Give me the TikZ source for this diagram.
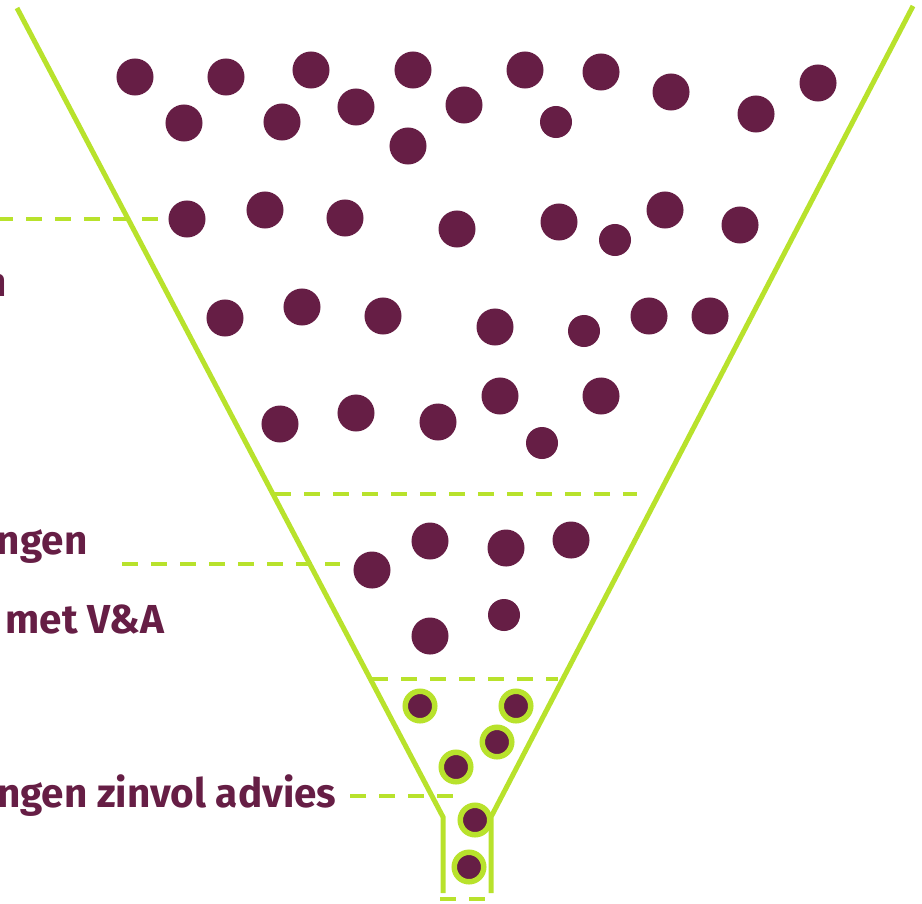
\documentclass[tikz,border=0pt]{standalone}
\usepackage{fontspec}
\setmainfont{Fira Sans}
\usetikzlibrary{positioning}
\definecolor{plum}{RGB}{102,30,69}
\definecolor{lime}{RGB}{184,226,44}

\begin{document}
\begin{tikzpicture}[x=0.01cm,y=-0.01cm,
    dot/.style={circle,fill=plum,inner sep=0pt,minimum size=0.37cm},
    smalldot/.style={dot,minimum size=0.32cm},
    ringdot/.style={circle,fill=plum,draw=lime,line width=0.055cm,inner sep=0pt,minimum size=0.295cm},
    wall/.style={lime,line width=0.05cm},
    cut/.style={lime,line width=0.04cm,dash pattern=on 0.16cm off 0.13cm},
    lbl/.style={anchor=base east,inner sep=0pt,text=plum,font=\bfseries\fontsize{11.5}{14}\selectfont}
  ]
  \useasboundingbox (0,0) rectangle (922,903);

  % funnel
  \draw[wall] (17,8) -- (443,817) -- (443,893);
  \draw[wall] (913,6) -- (491,817) -- (491,893);

  % top part
  \foreach \x/\y [count=\i] in {135/77,226/77,311/70,413/70,525/70,601/72,671/92,818/83,
      184/123,282/122,356/107,464/105,408/146,756/114,
      187/219,265/210,345/218,457/229,559/222,665/210,740/225,
      225/318,302/307,383/316,495/327,649/316,710/316,
      280/424,356/413,438/422,500/396,601/396} {
    \node[dot] (a\i) at (\x,\y) {};
  }
  \foreach \x/\y [count=\i] in {556/122,615/240,584/331,542/443} {
    \node[smalldot] (s\i) at (\x,\y) {};
  }

  % middle part
  \foreach \x/\y [count=\i] in {372/570,430/541,506/548,571/540,430/636} {
    \node[dot] (b\i) at (\x,\y) {};
  }
  \node[smalldot] (b6) at (504,615) {};

  % bottom part
  \foreach \x/\y [count=\i] in {420/706,516/706,497/742,456/767,475/820,469/867} {
    \node[ringdot] (c\i) at (\x,\y) {};
  }

  % labels
  \node[lbl] (lblTop) at (8,296) {n};
  \node[lbl] (lblMid) at (88,554) {ngen};
  \node[lbl] (lblTalk) at (165,633) {met V\&A};
  \node[lbl] (lblAdvice) at (337,807) {ngen zinvol advies};

  % dashed lines
  \coordinate (t0) at (-3,219);
  \draw[cut] (t0) -- (a15.west);
  \coordinate (m0) at (275,494);
  \coordinate (m1) at (637,494);
  \draw[cut] (m0) -- (m1);
  \coordinate (p0) at (122,564);
  \coordinate (p1) at (340,564);
  \draw[cut] (p0) -- (p1);
  \coordinate (q0) at (372,679);
  \coordinate (q1) at (558,679);
  \draw[cut] (q0) -- (q1);
  \coordinate (r0) at (350,796);
  \coordinate (r1) at (456,796);
  \draw[cut] (r0) -- (r1);
  \coordinate (n0) at (440,899);
  \coordinate (n1) at (490,899);
  \draw[cut] (n0) -- (n1);
\end{tikzpicture}
\end{document}
